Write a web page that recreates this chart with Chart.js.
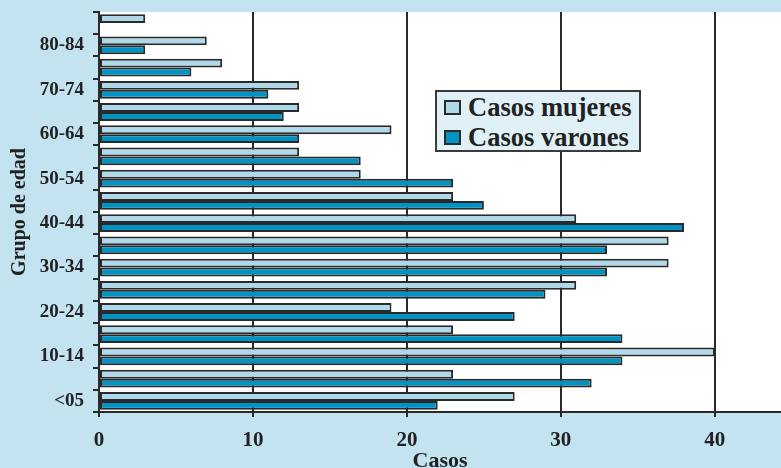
<!DOCTYPE html>
<html>
<head>
	<title>Casos por grupo de edad</title>
	<style>
		html, body { margin: 0; padding: 0; background: #c2e3ef; overflow: hidden; }
		#wrap { position: relative; width: 781px; height: 478px; }
		#legend { position: absolute; left: 435px; top: 90px; width: 206px; height: 62px; box-sizing: border-box;
			background: #dff0f7; border: 2px solid #3a3a3a; padding: 1px 0 0 7px;
			font-family: "Liberation Serif", serif; font-weight: bold; font-size: 26.5px; color: #222; }
		.item { display: flex; align-items: center; height: 29.5px; }
		.box { width: 17px; height: 15px; border: 2px solid #2a2a2a; box-sizing: border-box; margin-right: 7px; }
	</style>
	<script src="https://cdn.jsdelivr.net/npm/chart.js"></script>
</head>
<body>
<div id="wrap">
	<canvas id="chart" width="781" height="478"></canvas>
	<div id="legend"></div>
</div>
<script>
	// age groups, bottom to top
	const grupos = ['<05', '05-09', '10-14', '15-19', '20-24', '25-29', '30-34', '35-39', '40-44',
		'45-49', '50-54', '55-59', '60-64', '65-69', '70-74', '75-79', '80-84', '85+'];
	const casosMujeres = [27, 23, 40, 23, 19, 31, 37, 37, 31, 23, 17, 13, 19, 13, 13, 8, 7, 3];
	const casosVarones = [22, 32, 34, 34, 27, 29, 33, 33, 38, 25, 23, 17, 13, 12, 11, 6, 3, 0];
	const xMax = 44.3;
	const xStep = 10;

	const serif = 'Liberation Serif';
	const ink = '#222';
	const line = '#2a2a2a';

	const whiteArea = {
		id: 'whiteArea',
		beforeDraw(chart) {
			const { ctx, chartArea: a } = chart;
			ctx.save();
			ctx.fillStyle = '#ffffff';
			ctx.fillRect(a.left, a.top, a.right - a.left, a.bottom - a.top);
			ctx.restore();
		}
	};

	const chart = new Chart(document.getElementById('chart').getContext('2d'), {
		type: 'bar',
		data: {
			labels: grupos,
			datasets: [
				{ label: 'Casos mujeres', data: casosMujeres, backgroundColor: '#afd8ea', borderColor: line, borderWidth: 2, borderSkipped: false },
				{ label: 'Casos varones', data: casosVarones, backgroundColor: '#0093c3', borderColor: line, borderWidth: 2, borderSkipped: false }
			]
		},
		options: {
			indexAxis: 'y',
			responsive: false,
			animation: false,
			layout: { padding: { top: 12, left: 0, right: 0, bottom: 0 } },
			datasets: { bar: { categoryPercentage: 0.8, barPercentage: 1 } },
			plugins: { legend: { display: false }, tooltip: { enabled: false } },
			scales: {
				x: {
					min: 0, max: xMax,
					afterFit: s => { s.height = 66; s.paddingLeft = 0; s.paddingRight = 0; },
					ticks: { stepSize: xStep, includeBounds: false, padding: 11, color: ink,
						font: { family: serif, size: 21, weight: 'bold' } },
					grid: { color: line, lineWidth: 2, tickLength: 5 },
					border: { color: line, width: 2 },
					title: { display: true, text: 'Casos', color: ink, padding: { top: 0, bottom: 3 },
						font: { family: serif, size: 22, weight: 'bold' } }
				},
				y: {
					reverse: true,
					afterFit: s => { s.width = 99; s.paddingTop = 0; s.paddingBottom = 0; },
					ticks: { autoSkip: false, padding: 9, color: ink,
						callback: (v, i) => i % 2 === 0 ? grupos[i] : '',
						font: { family: serif, size: 19, weight: 'bold' } },
					grid: { drawOnChartArea: false, color: line, lineWidth: 2, tickLength: 6, offset: true },
					border: { color: line, width: 2 },
					title: { display: true, text: 'Grupo de edad', color: ink, padding: { top: 8, bottom: 0 },
						font: { family: serif, size: 20, weight: 'bold' } }
				}
			}
		},
		plugins: [whiteArea]
	});

	// legend box drawn as html
	const legend = document.getElementById('legend');
	chart.data.datasets.forEach(ds => {
		const item = document.createElement('div');
		item.className = 'item';
		item.innerHTML = '<span class="box" style="background:' + ds.backgroundColor + '"></span>' + ds.label;
		legend.appendChild(item);
	});
</script>
</body>
</html>
